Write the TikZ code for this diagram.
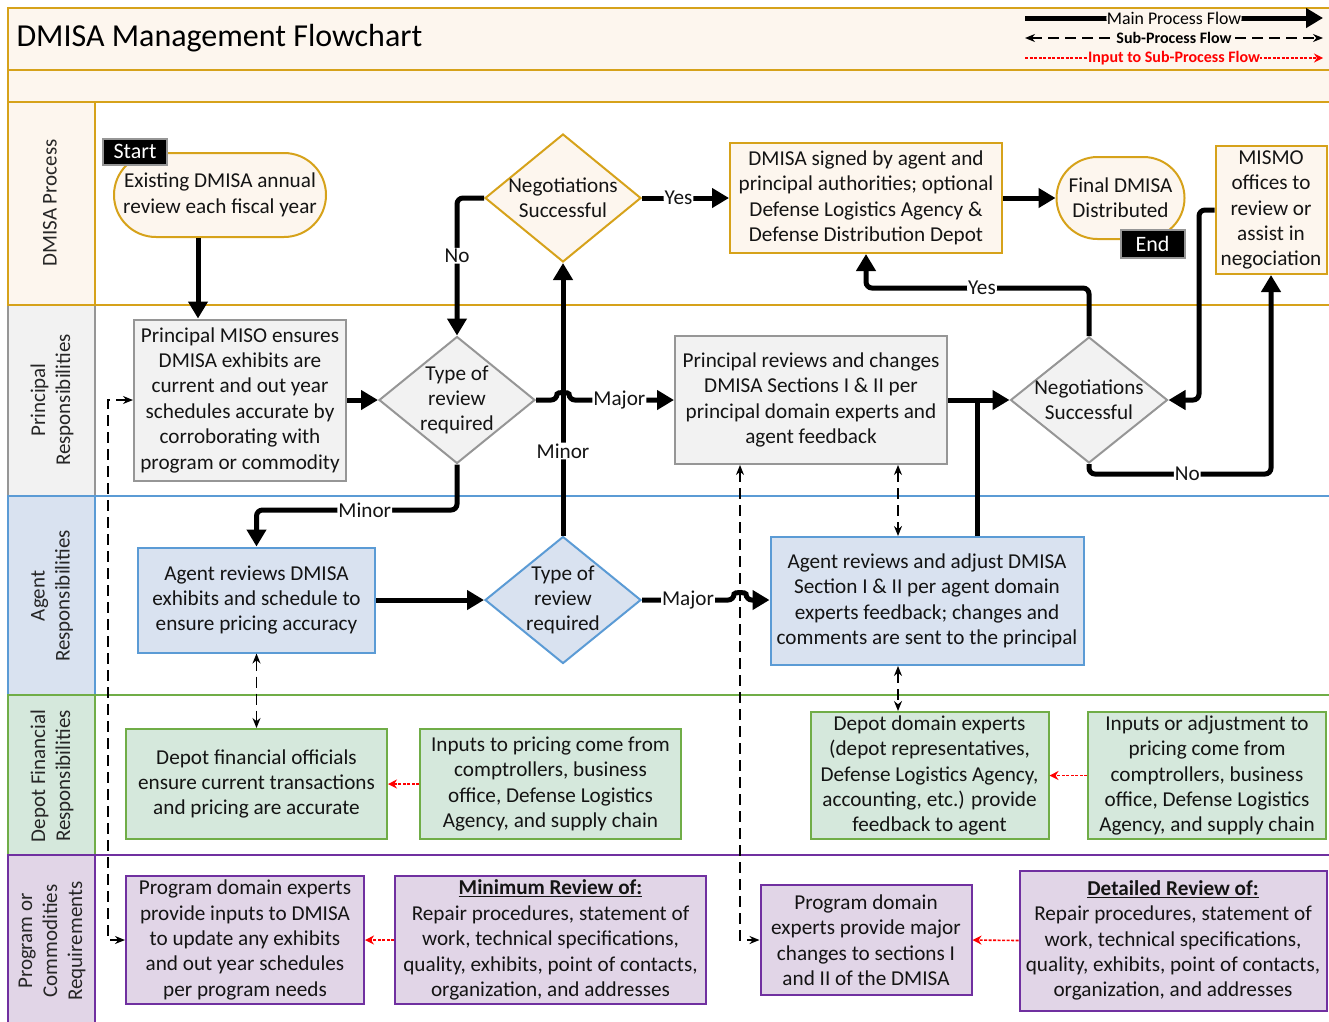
\documentclass[tikz,border=0pt]{standalone}
\usepackage{fontspec}
\setmainfont{Carlito}
\usetikzlibrary{arrows.meta,shapes.geometric}
\definecolor{goldb}{RGB}{214,162,26}
\definecolor{peach}{RGB}{253,246,238}
\definecolor{grayb}{RGB}{150,150,150}
\definecolor{grayf}{RGB}{242,242,242}
\definecolor{blueb}{RGB}{91,155,213}
\definecolor{bluef}{RGB}{217,226,240}
\definecolor{greenb}{RGB}{112,173,71}
\definecolor{greenf}{RGB}{213,232,220}
\definecolor{purpb}{RGB}{112,48,160}
\definecolor{purpf}{RGB}{225,213,231}
\begin{document}
\begin{tikzpicture}[x=1pt,y=-1pt,
  txt/.style={font=\fontsize{21.2}{25.4}\selectfont, align=center, text=black!92},
  box/.style={txt, draw, line width=2pt, inner sep=0pt},
  goldbox/.style={box, draw=goldb, fill=peach},
  graybox/.style={box, draw=grayb, fill=grayf},
  bluebox/.style={box, draw=blueb, fill=bluef},
  greenbox/.style={box, draw=greenb, fill=greenf},
  purpbox/.style={box, draw=purpb, fill=purpf},
  dia/.style={diamond, line width=2pt, inner sep=0pt},
  tag/.style={fill=black, draw=grayb, line width=2pt, text=white, inner sep=0pt,
    font=\fontsize{22}{24}\selectfont},
  lanelbl/.style={rotate=90, align=center, text=black!85, font=\fontsize{21}{25}\selectfont},
  lanebox/.style={line width=2pt},
  main/.style={line width=5pt, rounded corners=6pt, -{Triangle[length=17pt,width=19pt]}},
  mainline/.style={line width=5pt},
  sub/.style={line width=1.5pt, dash pattern=on 11pt off 6pt,
    {Stealth[length=10pt,width=8pt]}-{Stealth[length=10pt,width=8pt]}},
  inp/.style={draw=red, line width=1.6pt, dash pattern=on 3pt off 1.5pt,
    -{Stealth[length=9pt,width=9pt]}},
  lbl/.style={txt, fill=white, inner sep=1pt},
]
\useasboundingbox (0,0) rectangle (1329,1021);
% ---- header bands
\draw[lanebox, draw=goldb, fill=peach] (8,8) rectangle (1340,70);
\draw[lanebox, draw=goldb, fill=peach] (8,70) rectangle (1340,102);
\node[anchor=west, font=\fontsize{32}{36}\selectfont] (title) at (13,38) {DMISA Management Flowchart};
% ---- lanes
\draw[lanebox, draw=grayb] (8,305) rectangle (1340,496);
\draw[lanebox, draw=grayb, fill=grayf] (8,305) rectangle (95,496);
\draw[lanebox, draw=goldb] (8,102) rectangle (1340,305);
\draw[lanebox, draw=goldb, fill=peach] (8,102) rectangle (95,305);
\draw[lanebox, draw=blueb] (8,496) rectangle (1340,695);
\draw[lanebox, draw=blueb, fill=bluef] (8,496) rectangle (95,695);
\draw[lanebox, draw=greenb] (8,695) rectangle (1340,855);
\draw[lanebox, draw=greenb, fill=greenf] (8,695) rectangle (95,855);
\draw[lanebox, draw=purpb] (8,855) rectangle (1340,1030);
\draw[lanebox, draw=purpb, fill=purpf] (8,855) rectangle (95,1030);
\node[lanelbl] (l1) at (50,203) {DMISA Process};
\node[lanelbl] (l2) at (52,400) {Principal\\Responsibilities};
\node[lanelbl] (l3) at (52,596) {Agent\\Responsibilities};
\node[lanelbl] (l4) at (52,776) {Depot Financial\\Responsibilities};
\node[lanelbl] (l5) at (52,941) {Program or\\Commodities\\Requirements};
% ---- legend
\coordinate (lga) at (1025,18); \coordinate (lgb) at (1323,18);
\coordinate (lgc) at (1025,38); \coordinate (lgd) at (1323,38);
\coordinate (lge) at (1025,58); \coordinate (lgf) at (1323,58);
\draw[main] (lga) -- node[fill=peach, inner sep=0.5pt, font=\fontsize{17.8}{20}\selectfont]{Main Process Flow} (lgb);
\draw[sub] (lgc) -- node[fill=peach, inner sep=0.5pt, font=\fontsize{16}{18}\selectfont\bfseries]{Sub-Process Flow} (lgd);
\draw[inp] (lge) -- node[fill=peach, inner sep=0.5pt, text=red, font=\fontsize{16}{18}\selectfont\bfseries]{Input to Sub-Process Flow} (lgf);
% ---- DMISA process lane
\node[goldbox, minimum width=212pt, minimum height=84pt, rounded corners=42pt] (ex) at (220,195) {Existing DMISA annual\\review each fiscal year};
\node[dia, draw=goldb, fill=peach, minimum width=156pt, minimum height=128pt] (ns1) at (563,198) {};
\node[txt] (ns1t) at (ns1.center) {Negotiations\\Successful};
\node[goldbox, minimum width=272pt, minimum height=110pt] (ds) at (866,198) {DMISA signed by agent and\\principal authorities; optional\\Defense Logistics Agency \&\\Defense Distribution Depot};
\node[goldbox, minimum width=128pt, minimum height=82pt, rounded corners=41pt] (fd) at (1120.5,198) {Final DMISA\\Distributed};
\node[goldbox, minimum width=111pt, minimum height=128pt] (mi) at (1271,210) {MISMO\\offices to\\review or\\assist in\\negociation};
\node[tag, minimum width=64pt, minimum height=26pt] (st) at (135,151.5) {Start};
\node[tag, minimum width=64pt, minimum height=28pt] (en) at (1152.5,243.5) {End};
% ---- principal lane
\node[graybox, minimum width=212pt, minimum height=161pt] (mo) at (240,400) {Principal MISO ensures\\DMISA exhibits are\\current and out year\\schedules accurate by\\corroborating with\\program or commodity};
\node[dia, draw=grayb, fill=grayf, minimum width=156pt, minimum height=127pt] (tr1) at (457,400) {};
\node[txt] (tr1t) at (tr1.center) {Type of\\review\\required};
\node[graybox, minimum width=272pt, minimum height=128pt] (pr) at (811,400) {Principal reviews and changes\\DMISA Sections I \& II per\\principal domain experts and\\agent feedback};
\node[dia, draw=grayb, fill=grayf, minimum width=157pt, minimum height=126pt] (ns2) at (1089,400) {};
\node[txt] (ns2t) at (ns2.center) {Negotiations\\Successful};
% ---- agent lane
\node[bluebox, minimum width=237pt, minimum height=105pt] (ar) at (256.5,600) {Agent reviews DMISA\\exhibits and schedule to\\ensure pricing accuracy};
\node[dia, draw=blueb, fill=bluef, minimum width=156pt, minimum height=127pt] (tr2) at (563,600) {};
\node[txt] (tr2t) at (tr2.center) {Type of\\review\\required};
\node[bluebox, minimum width=313pt, minimum height=128pt] (aa) at (927,601) {Agent reviews and adjust DMISA\\Section I \& II per agent domain\\experts feedback; changes and\\comments are sent to the principal};
% ---- depot lane
\node[greenbox, minimum width=261pt, minimum height=110pt] (df) at (256.5,784) {Depot financial officials\\ensure current transactions\\and pricing are accurate};
\node[greenbox, minimum width=261pt, minimum height=110pt] (ip) at (550.5,784) {Inputs to pricing come from\\comptrollers, business\\office, Defense Logistics\\Agency, and supply chain};
\node[greenbox, minimum width=238pt, minimum height=127pt] (dd) at (929.5,775.5) {Depot domain experts\\(depot representatives,\\Defense Logistics Agency,\\accounting, etc.) provide\\feedback to agent};
\node[greenbox, minimum width=238pt, minimum height=127pt] (ia) at (1207,775.5) {Inputs or adjustment to\\pricing come from\\comptrollers, business\\office, Defense Logistics\\Agency, and supply chain};
% ---- program lane
\node[purpbox, minimum width=238pt, minimum height=128pt] (p1) at (245,940) {Program domain experts\\provide inputs to DMISA\\to update any exhibits\\and out year schedules\\per program needs};
\node[purpbox, minimum width=311pt, minimum height=128pt] (mr) at (550.5,940) {\textbf{\underline{Minimum Review of:}}\\Repair procedures, statement of\\work, technical specifications,\\quality, exhibits, point of contacts,\\organization, and addresses};
\node[purpbox, minimum width=211pt, minimum height=110pt] (p2) at (866,940) {Program domain\\experts provide major\\changes to sections I\\and II of the DMISA};
\node[purpbox, minimum width=307pt, minimum height=140pt] (dr) at (1173,940.5) {\textbf{\underline{Detailed Review of:}}\\Repair procedures, statement of\\work, technical specifications,\\quality, exhibits, point of contacts,\\organization, and addresses};
% ---- helper coordinates
\coordinate (xa) at (198,0);
\coordinate (xb) at (898,0);
\coordinate (xc) at (740,0);
\coordinate (xl) at (108,600);
\coordinate (j1) at (977,400);
% ---- sub-process connectors
\draw[sub] (mo.west) -| (xl) |- (p1.west);
\draw[sub] (pr.south -| xc) |- (p2.west);
\draw[sub] (pr.south -| xb) -- (aa.north -| xb);
\draw[sub] (aa.south -| xb) -- (dd.north -| xb);
\draw[sub] (ar.south) -- (df.north);
% ---- input connectors
\draw[inp] (ip.west) -- (df.east);
\draw[inp] (ia.west) -- (dd.east);
\draw[inp] (mr.west) -- (p1.east);
\draw[inp] (dr.west) -- (p2.east);
% ---- main connectors
\draw[main] (ex.south -| xa) -- (mo.north -| xa);
\draw[main] (mo.east) -- (tr1.west);
\draw[main] (ns1.west) -| node[lbl,pos=0.71]{No} (tr1.north);
\draw[main] (tr2.north) -- node[lbl,pos=0.31]{Minor} (ns1.south);
\draw[main] (tr1.east) -- (557,400) .. controls (557,392) and (569,392) .. (569,400) -- node[lbl,pos=0.48]{Major} (pr.west);
\draw[main] (tr1.south) -- (457,510) -| node[lbl,pos=0.23]{Minor} (ar.north);
\draw[main] (ar.east) -- (tr2.west);
\draw[main] (tr2.east) -- node[lbl]{Major} (734,600) .. controls (734,592) and (746,592) .. (746,600) -- (aa.west |- tr2.east);
\draw[main] (ns1.east) -- node[lbl,pos=0.42]{Yes} (ds.west);
\draw[main] (ds.east) -- (fd.west);
\draw[mainline] (aa.north -| j1) -- (j1);
\draw[main] (pr.east) -- (ns2.west);
\draw[main] (ns2.north) -- (1089,288) -| node[lbl,pos=0.24]{Yes} (ds.south);
\draw[main] (ns2.south) -- (1089,474) -| node[lbl,pos=0.27]{No} (mi.south);
\draw[main] (mi.west) -- (1199,210) |- (ns2.east);
\end{tikzpicture}
\end{document}
